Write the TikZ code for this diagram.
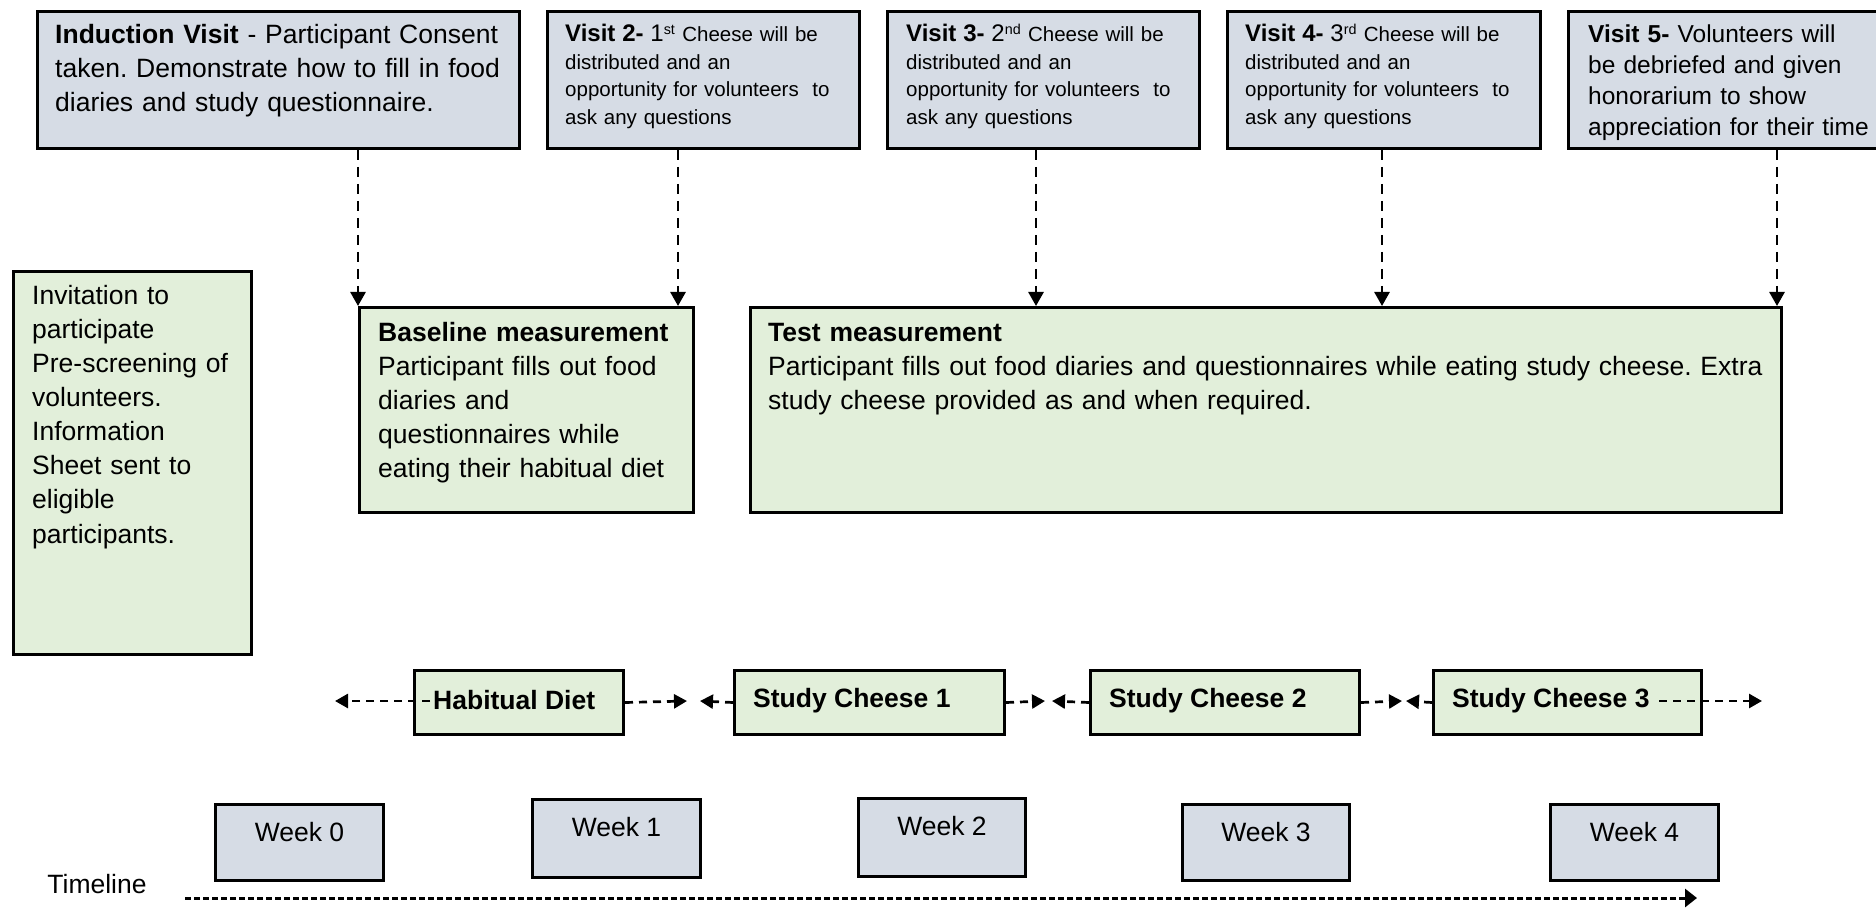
\documentclass[tikz,border=0pt]{standalone}
\usepackage{fontspec}
\setmainfont{Liberation Sans}
\usetikzlibrary{arrows.meta}
\definecolor{bluefill}{RGB}{214,220,229}
\definecolor{greenfill}{RGB}{226,239,218}
\frenchspacing
\tikzset{
  boxbase/.style={draw=black, line width=3pt, inner sep=0pt, anchor=north west},
  bluebox/.style={boxbase, fill=bluefill},
  greenbox/.style={boxbase, fill=greenfill},
  bigtxt/.style={inner sep=0pt, anchor=base west, align=left, text width=#1,
    font=\fontsize{26.5}{34}\selectfont},
  bigtxt/.default=1000pt,
  smalltxt/.style={inner sep=0pt, anchor=base west, align=left, text width=300pt,
    font=\fontsize{20.5}{27.5}\selectfont},
  v5txt/.style={inner sep=0pt, anchor=base west, align=left, text width=320pt,
    font=\fontsize{24.5}{30.7}\selectfont},
  phasetxt/.style={inner sep=0pt, anchor=west, font=\fontsize{26.5}{32}\selectfont\bfseries},
  weektxt/.style={inner sep=0pt, font=\fontsize{26.5}{32}\selectfont},
  varrow/.style={line width=2.7pt, dash pattern=on 10pt off 7pt, -{Triangle[length=14pt,width=15pt]}},
  harrow/.style={line width=2.7pt, dash pattern=on 8pt off 6pt, -{Triangle[length=13pt,width=14pt]}},
  tarrow/.style={line width=3pt, dash pattern=on 6pt off 3pt, -{Triangle[length=12pt,width=18pt]}},
}
\newcommand{\vbig}[1]{{\fontsize{24}{27.5}\selectfont #1}}
\begin{document}
\begin{tikzpicture}[x=1pt,y=-1pt]
\useasboundingbox (0,0) rectangle (1876,909);

% top visit boxes
\node[bluebox, minimum width=482pt, minimum height=137pt] (ind) at (36,10) {};
\node[bluebox, minimum width=312pt, minimum height=137pt] (v2) at (546,10) {};
\node[bluebox, minimum width=312pt, minimum height=137pt] (v3) at (886,10) {};
\node[bluebox, minimum width=313pt, minimum height=137pt] (v4) at (1226,10) {};
\node[bluebox, minimum width=330pt, minimum height=137pt] (v5) at (1567,10) {};

\node[bigtxt] (indT) at (55,44) {\textbf{Induction Visit} - Participant Consent\\taken. Demonstrate how to fill in food\\diaries and study questionnaire.};
\node[smalltxt] (v2T) at (565,42) {\vbig{\textbf{Visit 2-} 1}\textsuperscript{st} Cheese will be\\distributed and an\\opportunity for volunteers\ \ to\\ask any questions};
\node[smalltxt] (v3T) at (906,42) {\vbig{\textbf{Visit 3-} 2}\textsuperscript{nd} Cheese will be\\distributed and an\\opportunity for volunteers\ \ to\\ask any questions};
\node[smalltxt] (v4T) at (1245,42) {\vbig{\textbf{Visit 4-} 3}\textsuperscript{rd} Cheese will be\\distributed and an\\opportunity for volunteers\ \ to\\ask any questions};
\node[v5txt] (v5T) at (1588,43) {\textbf{Visit 5-} Volunteers will\\be debriefed and given\\honorarium to show\\appreciation for their time};

% middle boxes
\node[greenbox, minimum width=238pt, minimum height=383pt] (inv) at (12,270) {};
\node[bigtxt=220pt] (invT) at (32,305) {Invitation to\\participate\\Pre-screening of\\volunteers.\\Information\\Sheet sent to\\eligible\\participants.};

\node[greenbox, minimum width=334pt, minimum height=205pt] (base) at (358,306) {};
\node[bigtxt=320pt] (baseT) at (378,341) {\textbf{Baseline measurement}\\Participant fills out food\\diaries and\\questionnaires while\\eating their habitual diet};

\node[greenbox, minimum width=1031pt, minimum height=205pt] (test) at (749,306) {};
\node[bigtxt] (testT) at (768,341) {\textbf{Test measurement}\\Participant fills out food diaries and questionnaires while eating study cheese. Extra\\study cheese provided as and when required.};

% vertical arrows
\coordinate (x1) at (358,0);
\coordinate (x2) at (678,0);
\coordinate (x3) at (1036,0);
\coordinate (x4) at (1382,0);
\coordinate (x5) at (1777,0);
\draw[varrow] (ind.south -| x1) -- (base.north -| x1);
\draw[varrow] (v2.south -| x2) -- (base.north -| x2);
\draw[varrow] (v3.south -| x3) -- (test.north -| x3);
\draw[varrow] (v4.south -| x4) -- (test.north -| x4);
\draw[varrow] (v5.south -| x5) -- (test.north -| x5);

% phase boxes
\node[greenbox, minimum width=209pt, minimum height=64pt] (hab) at (413,669) {};
\node[greenbox, minimum width=270pt, minimum height=64pt] (sc1) at (733,669) {};
\node[greenbox, minimum width=269pt, minimum height=64pt] (sc2) at (1089,669) {};
\node[greenbox, minimum width=268pt, minimum height=64pt] (sc3) at (1432,669) {};
\node[phasetxt] (habT) at ([xshift=20pt,yshift=2pt]hab.west) {Habitual Diet};
\node[phasetxt] (sc1T) at ([xshift=20pt,yshift=2pt]sc1.west) {Study Cheese 1};
\node[phasetxt] (sc2T) at ([xshift=20pt,yshift=2pt]sc2.west) {Study Cheese 2};
\node[phasetxt] (sc3T) at ([xshift=20pt,yshift=2pt]sc3.west) {Study Cheese 3};

\coordinate (hL) at (335,701);
\coordinate (h1) at (687,701);
\coordinate (h1b) at (700,701);
\coordinate (h2) at (1045,701);
\coordinate (h2b) at (1052,701);
\coordinate (h3) at (1402,701);
\coordinate (h3b) at (1406,701);
\coordinate (hR) at (1762,701);
\coordinate (hStart) at (430,701);
\coordinate (sc3Start) at (1659,701);

\draw[harrow] (hStart) -- (hL);
\draw[harrow] (hab.east) -- (h1);
\draw[harrow] (sc1.west) -- (h1b);
\draw[harrow] (sc1.east) -- (h2);
\draw[harrow] (sc2.west) -- (h2b);
\draw[harrow] (sc2.east) -- (h3);
\draw[harrow] (sc3.west) -- (h3b);
\draw[harrow] (sc3Start) -- (hR);

% week boxes
\node[bluebox, minimum width=168pt, minimum height=76pt] (w0) at (214,803) {};
\node[bluebox, minimum width=168pt, minimum height=78pt] (w1) at (531,798) {};
\node[bluebox, minimum width=167pt, minimum height=78pt] (w2) at (857,797) {};
\node[bluebox, minimum width=167pt, minimum height=76pt] (w3) at (1181,803) {};
\node[bluebox, minimum width=168pt, minimum height=76pt] (w4) at (1549,803) {};
\node[weektxt] (w0T) at ([yshift=10pt]w0.center) {Week 0};
\node[weektxt] (w1T) at ([yshift=11pt]w1.center) {Week 1};
\node[weektxt] (w2T) at ([yshift=11pt]w2.center) {Week 2};
\node[weektxt] (w3T) at ([yshift=10pt]w3.center) {Week 3};
\node[weektxt] (w4T) at ([yshift=10pt]w4.center) {Week 4};

% timeline
\node[weektxt] (tl) at (97,884) {Timeline};
\coordinate (tA) at (185,898);
\coordinate (tB) at (1697,898);
\draw[tarrow] (tA) -- (tB);
\end{tikzpicture}
\end{document}
